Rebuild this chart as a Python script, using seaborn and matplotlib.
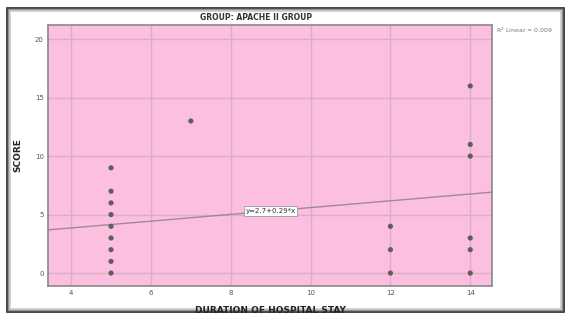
import numpy as np
import pandas as pd
import matplotlib.pyplot as plt
import seaborn as sns
from matplotlib.patches import Rectangle

# duration of hospital stay vs score, apache II group
stay = [5, 5, 5, 5, 5, 5, 5, 5, 5, 7, 12, 12, 12, 14, 14, 14, 14, 14, 14]
score = [0, 1, 2, 3, 4, 5, 6, 7, 9, 13, 0, 2, 4, 0, 2, 3, 10, 11, 16]
intercept = 2.7
slope = 0.29
r2_label = "R$^2$ Linear = 0.009"
eq_label = "y=2.7+0.29*x"
x_ticks = [4, 6, 8, 10, 12, 14]
y_ticks = [0, 5, 10, 15, 20]

df = pd.DataFrame({"stay": stay, "score": score})

sns.set_style("white")
fig = plt.figure(figsize=(5.71, 3.22), dpi=100)
ax = fig.add_axes([0.084, 0.112, 0.778, 0.81])
ax.set_facecolor("#fdbfdf")

sns.scatterplot(data=df, x="stay", y="score", ax=ax, color="#5e5e5e",
                s=14, edgecolor="none", zorder=3)
ax.axline((0, intercept), slope=slope, color="#a08898", lw=1, zorder=2)

ax.set_xlim(3.42, 14.55)
ax.set_ylim(-1.1, 21.2)
ax.set_xticks(x_ticks)
ax.set_yticks(y_ticks)
ax.grid(True, color="#d8afc6", lw=1)
ax.set_axisbelow(True)
ax.tick_params(labelsize=5, colors="#555555", length=0, pad=3)
for s in ax.spines.values():
    s.set_color("#888888")
    s.set_linewidth(1.2)

ax.set_xlabel("DURATION OF HOSPITAL STAY", fontsize=6.5, fontweight="bold",
              color="#222222", labelpad=7)
ax.set_ylabel("SCORE", fontsize=6.5, fontweight="bold", color="#222222", labelpad=9)
fig.text(0.448, 0.945, "GROUP: APACHE II GROUP", fontsize=5.5, fontweight="bold",
         color="#333333", ha="center", va="center")

ax.text(9, intercept + slope * 9, eq_label, fontsize=5, ha="center", va="center",
        color="#333333", zorder=4,
        bbox=dict(boxstyle="square,pad=0.25", fc="white", ec="#999999", lw=0.6))
fig.text(0.868, 0.905, r2_label, fontsize=4.5, color="#777777", ha="left", va="center")

# picture frame with shadow
for i, c in enumerate(["#222222", "#555555", "#999999", "#cccccc"]):
    fig.add_artist(Rectangle((0.012 + i * 0.002, 0.03 + i * 0.003),
                             0.976 - i * 0.004, 0.945 - i * 0.006,
                             transform=fig.transFigure, fill=False,
                             ec=c, lw=1.2, zorder=0))

fig.savefig("out.png", dpi=100)
